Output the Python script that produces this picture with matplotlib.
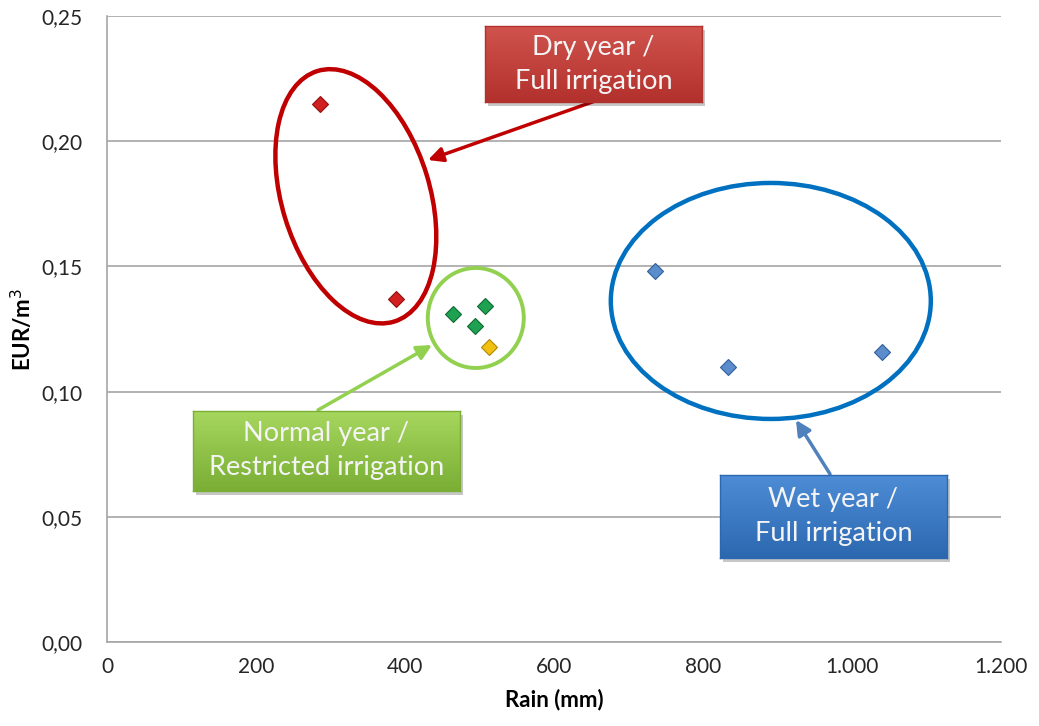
import numpy as np
import matplotlib
matplotlib.use("Agg")
import matplotlib.pyplot as plt
import matplotlib.transforms as mtransforms
from matplotlib.patches import Ellipse, Rectangle
from matplotlib.ticker import FuncFormatter
from matplotlib.colors import LinearSegmentedColormap

plt.rcParams['font.family'] = ['Lato', 'DejaVu Sans']

# rain (mm) and water cost (EUR/m3) per campaign
rain_dry = [286, 388]
eur_dry = [0.215, 0.137]
rain_normal = [464, 507, 494]
eur_normal = [0.131, 0.134, 0.126]
rain_restricted = [513]
eur_restricted = [0.118]
rain_wet = [736, 834, 1040]
eur_wet = [0.148, 0.110, 0.116]

x_ticks = [0, 200, 400, 600, 800, 1000, 1200]
y_ticks = [0.00, 0.05, 0.10, 0.15, 0.20, 0.25]

W, H = 1039, 726
fig = plt.figure(figsize=(W / 100, H / 100), dpi=100)
ax = fig.add_axes([107 / W, 1 - 642 / H, (1001 - 107) / W, (642 - 16) / H])

ax.set_xlim(0, 1200)
ax.set_ylim(0, 0.25)
ax.set_xticks(x_ticks)
ax.set_yticks(y_ticks)
ax.xaxis.set_major_formatter(FuncFormatter(lambda v, p: f"{int(v):,}".replace(",", ".")))
ax.yaxis.set_major_formatter(FuncFormatter(lambda v, p: f"{v:.2f}".replace(".", ",")))
ax.tick_params(axis='both', length=0, labelsize=15, colors='#262626')
ax.tick_params(axis='x', pad=11)
ax.tick_params(axis='y', pad=18)
ax.grid(axis='y', color='#a6a6a6', lw=1.2)
ax.set_axisbelow(True)
for s in ['top', 'right']:
    ax.spines[s].set_visible(False)
for s in ['left', 'bottom']:
    ax.spines[s].set_color('#a6a6a6')
    ax.spines[s].set_linewidth(1.2)
ax.set_xlabel('Rain (mm)', fontsize=16, fontweight='bold', labelpad=8)
ax.set_ylabel('EUR/m$^3$', fontsize=16, fontweight='bold', labelpad=4)

mk = dict(marker='D', ms=8, ls='none', mew=0.8, zorder=5)
ax.plot(rain_dry, eur_dry, mfc='#d21f1f', mec='#8e1010', **mk)
ax.plot(rain_normal, eur_normal, mfc='#1fa152', mec='#0d6b33', **mk)
ax.plot(rain_restricted, eur_restricted, mfc='#f2c010', mec='#b08800', **mk)
ax.plot(rain_wet, eur_wet, mfc='#5b8ccb', mec='#2f5f9a', **mk)


# ellipses centred in data coords, sized in pixels
def pix_at(cx, cy):
    return mtransforms.Affine2D().scale(fig.dpi / 100) + mtransforms.ScaledTranslation(cx, cy, ax.transData)


ax.add_patch(Ellipse((0, 0), 148, 262, angle=17, fill=False, ec='#c00000', lw=3.2,
                     transform=pix_at(334, 0.178), clip_on=False, zorder=4))
ax.add_patch(Ellipse((0, 0), 96, 100, fill=False, ec='#92d050', lw=2.8,
                     transform=pix_at(495, 0.1294), clip_on=False, zorder=4))
ax.add_patch(Ellipse((0, 0), 320, 236, fill=False, ec='#0070c0', lw=3.2,
                     transform=pix_at(891, 0.1362), clip_on=False, zorder=4))


def fpx(x, y):
    return x, H - y


# arrows from the boxes to the groups
arrows = [((598, 100), (428, 160), '#c00000'),
          ((318, 410), (432, 345), '#92d050'),
          ((830, 474), (796, 420), '#4f81bd')]
for (x0, y0), (x1, y1), c in arrows:
    ax.annotate('', xy=fpx(x1, y1), xytext=fpx(x0, y0), xycoords='figure pixels',
                textcoords='figure pixels',
                arrowprops=dict(arrowstyle='-|>', color=c, lw=2.5, mutation_scale=22,
                                shrinkA=0, shrinkB=0))

# labelled boxes with a vertical gradient and a soft shadow
boxes = [((485, 26, 702, 102), 'Dry year /\nFull irrigation', '#d0534e', '#b3312c'),
         ((193, 411, 460, 491), 'Normal year /\nRestricted irrigation', '#a6d65e', '#7aae35'),
         ((720, 475, 947, 558), 'Wet year /\nFull irrigation', '#4d8dd6', '#2c68b0')]
for (x0, y0, x1, y1), txt, c_top, c_bot in boxes:
    shadow = Rectangle(((x0 + 3) / W, 1 - (y1 + 4) / H), (x1 - x0) / W, (y1 - y0) / H,
                       transform=fig.transFigure, fc='#000000', alpha=0.22, ec='none', zorder=2)
    fig.add_artist(shadow)
    bax = fig.add_axes([x0 / W, 1 - y1 / H, (x1 - x0) / W, (y1 - y0) / H])
    bax.set_zorder(3)
    cmap = LinearSegmentedColormap.from_list('g', [c_top, c_bot])
    bax.imshow(np.linspace(0, 1, 64).reshape(-1, 1), cmap=cmap, aspect='auto',
               extent=[0, 1, 0, 1], origin='upper')
    bax.set_xticks([])
    bax.set_yticks([])
    for s in bax.spines.values():
        s.set_edgecolor(c_bot)
        s.set_linewidth(1)
    bax.text(0.5, 0.5, txt, ha='center', va='center', color='#f4f4f4',
             fontsize=19.5, linespacing=1.45, transform=bax.transAxes)

fig.savefig('out.png', dpi=100)
